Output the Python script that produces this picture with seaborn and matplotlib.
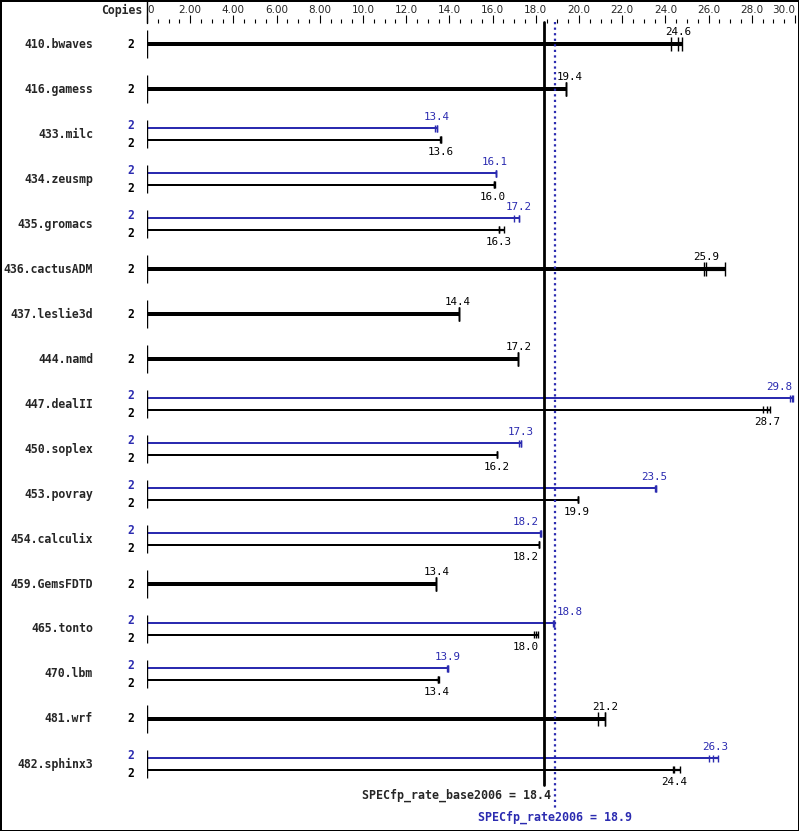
import numpy as np
import pandas as pd
import matplotlib
matplotlib.use('Agg')
import matplotlib.pyplot as plt
from matplotlib.ticker import MultipleLocator
import seaborn as sns

benchmarks = ['410.bwaves', '416.gamess', '433.milc', '434.zeusmp', '435.gromacs',
              '436.cactusADM', '437.leslie3d', '444.namd', '447.dealII', '450.soplex',
              '453.povray', '454.calculix', '459.GemsFDTD', '465.tonto', '470.lbm',
              '481.wrf', '482.sphinx3']
base_copies = [2] * 17
peak_copies = [None, None, 2, 2, 2, None, None, None, 2, 2, 2, 2, None, 2, 2, None, 2]
base_ratio = [24.6, 19.4, 13.6, 16.0, 16.3, 25.9, 14.4, 17.2, 28.7, 16.2,
              19.9, 18.2, 13.4, 18.0, 13.4, 21.2, 24.4]
peak_ratio = [None, None, 13.4, 16.1, 17.2, None, None, None, 29.8, 17.3,
              23.5, 18.2, None, 18.8, 13.9, None, 26.3]
# individual run results (little ticks at the end of each bar)
base_runs = [[24.27, 24.6, 24.75], [19.38, 19.4, 19.42], [13.56, 13.6, 13.6],
             [16.05, 16.08, 16.1], [16.3, 16.3, 16.53], [25.8, 25.88, 26.76],
             [14.43, 14.43, 14.43], [17.18, 17.18, 17.18], [28.5, 28.69, 28.84],
             [16.19, 16.19, 16.19], [19.95, 19.95, 19.95], [18.16, 18.16, 18.16],
             [13.36, 13.37, 13.38], [17.9, 18.0, 18.1], [13.46, 13.48, 13.52],
             [20.86, 21.19, 21.22], [24.37, 24.4, 24.68]]
peak_runs = [None, None, [13.35, 13.41, 13.41], [16.14, 16.14, 16.14],
             [17.0, 17.22, 17.22], None, None, None, [29.77, 29.85, 29.92],
             [17.22, 17.3, 17.3], [23.5, 23.57, 23.57], [18.2, 18.24, 18.24],
             None, [18.8, 18.86, 18.86], [13.87, 13.95, 13.95], None,
             [26.03, 26.2, 26.45]]
base_mean = 18.4
peak_mean = 18.9
tick_values = list(range(0, 31, 2))
tick_labels = ['0', '2.00', '4.00', '6.00', '8.00'] + ['%.1f' % v for v in range(10, 31, 2)]

BLUE = '#2b2bb0'
MONO = 'DejaVu Sans Mono'

sns.set_style('white')
plt.rcParams['font.family'] = ['DejaVu Sans Mono', 'DejaVu Sans']

fig = plt.figure(figsize=(7.99, 8.31), dpi=100)
fig.patch.set_edgecolor('black')
fig.patch.set_linewidth(2)
ax = fig.add_axes([147 / 799, 0, (795 - 147) / 799, 808 / 831])

n = len(benchmarks)
rows = np.arange(n)
has_peak = np.array([p is not None for p in peak_ratio])
off = 0.13

single = pd.DataFrame({'pos': rows[~has_peak].astype(float),
                       'val': np.array(base_ratio)[~has_peak]})
pk = pd.DataFrame({'pos': rows[has_peak] - off,
                   'val': [peak_ratio[i] for i in rows[has_peak]]})
bs = pd.DataFrame({'pos': rows[has_peak] + off,
                   'val': np.array(base_ratio)[has_peak]})

sns.barplot(data=single, x='val', y='pos', orient='h', native_scale=True, width=0.09,
            color='black', saturation=1, errorbar=None, linewidth=0, ax=ax)
sns.barplot(data=pk, x='val', y='pos', orient='h', native_scale=True, width=0.045,
            color=BLUE, saturation=1, errorbar=None, linewidth=0, ax=ax)
sns.barplot(data=bs, x='val', y='pos', orient='h', native_scale=True, width=0.045,
            color='black', saturation=1, errorbar=None, linewidth=0, ax=ax)


def label_spot(v):
    # keep the value text clear of the two mean lines and the right edge
    lo, hi = v - 0.6, v + 0.6
    if hi > 30:
        return v + 0.05, 'right'
    if lo < base_mean < hi or lo < peak_mean < hi:
        if v < base_mean:
            return base_mean - 0.25, 'right'
        return peak_mean + 0.08, 'left'
    return v, 'center'


for i in rows:
    ax.vlines(0, i - 0.31, i + 0.31, color='black', lw=1)
    ax.text(-2.5, i, benchmarks[i], ha='right', va='center', fontsize=8.3,
            fontweight='bold', family=MONO, clip_on=False)
    if has_peak[i]:
        groups = [(peak_runs[i], peak_ratio[i], peak_copies[i], i - off, BLUE, -1),
                  (base_runs[i], base_ratio[i], base_copies[i], i + off, 'black', 1)]
        lw, th, cy = 1.6, 0.08, [-0.19, 0.21]
    else:
        groups = [(base_runs[i], base_ratio[i], base_copies[i], float(i), 'black', -1)]
        lw, th, cy = 3, 0.155, [0]
    for k, (runs, val, cop, y, col, side) in enumerate(groups):
        ax.hlines(y, val, max(runs), color=col, lw=lw)
        ax.vlines(runs, y - th, y + th, color=col, lw=1)
        x, ha = label_spot(val)
        dy = -0.25 if side < 0 else 0.27
        if not has_peak[i]:
            dy = -0.27
        ax.text(x, y + dy, '%.1f' % val, ha=ha, va='center', fontsize=7.8,
                color=col, family=MONO)
        ax.text(-0.74, i + cy[k], str(cop), ha='center', va='center', fontsize=8.3,
                fontweight='bold', color=col, family=MONO, clip_on=False)

ax.plot([base_mean, base_mean], [-0.49, 16.47], color='black', lw=2, clip_on=False)
ax.plot([peak_mean, peak_mean], [-0.49, 16.98], color=BLUE, lw=1.6, ls=(0, (1, 1.5)),
        clip_on=False)
ax.plot([0, 0], [-0.99, -0.47], color='black', lw=1, clip_on=False)
ax.text(base_mean + 0.3, 16.69, 'SPECfp_rate_base2006 = %.1f' % base_mean, ha='right',
        va='center', fontsize=8.4, fontweight='bold', family=MONO, clip_on=False)
ax.text(peak_mean, 17.18, 'SPECfp_rate2006 = %.1f' % peak_mean, ha='center',
        va='center', fontsize=8.4, fontweight='bold', color=BLUE, family=MONO,
        clip_on=False)
fig.text(142 / 799, 1 - 10 / 831, 'Copies', ha='right', va='center', fontsize=8.3,
         fontweight='bold', family=MONO)

ax.set_xlim(0, 30)
ax.set_ylim(17.489, -0.467)
ax.set_xlabel('')
ax.set_ylabel('')
ax.set_yticks([])
for s in ax.spines.values():
    s.set_visible(False)
ax.xaxis.tick_top()
ax.set_xticks(tick_values)
ax.set_xticklabels(tick_labels, family=['Liberation Sans Narrow', 'DejaVu Sans'],
                   fontsize=7.5)
ax.xaxis.set_minor_locator(MultipleLocator(0.5))
ax.tick_params(axis='x', which='major', length=5.8, width=0.8, pad=0, color='black')
ax.tick_params(axis='x', which='minor', length=2.9, width=0.8, color='black')
lbls = ax.get_xticklabels()
lbls[0].set_horizontalalignment('left')
lbls[-1].set_horizontalalignment('right')
ax.patch.set_alpha(0)

fig.savefig('out.png', dpi=100)
